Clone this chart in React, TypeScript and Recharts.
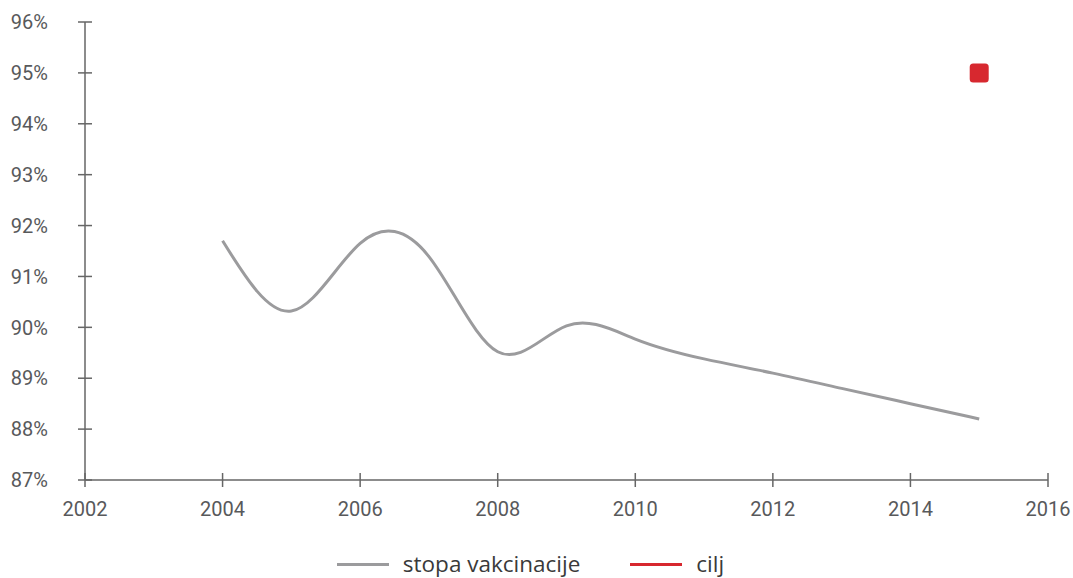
import React from 'react'
import { ComposedChart, Line, Scatter, XAxis, YAxis, Legend } from 'recharts'

const years = [2004, 2005, 2006, 2007, 2008, 2009, 2010, 2011, 2012, 2013, 2014, 2015]
const rates = [91.7, 90.32, 91.65, 91.39, 89.52, 90.03, 89.77, 89.38, 89.1, 88.8, 88.5, 88.2]
const targetYears = [2015]
const targetValues = [95]
const xTicks = [2002, 2004, 2006, 2008, 2010, 2012, 2014, 2016]
const yTicks = [87, 88, 89, 90, 91, 92, 93, 94, 95, 96]

const rows = years.map((year, i) => ({ year, rate: rates[i] }))
const targetRows = targetYears.map((year, i) => ({ year, target: targetValues[i] }))

const W = 1065
const H = 570
const AXIS = '#666666'
const TICK_TEXT = '#58595b'
const GREY = '#9b9b9d'
const RED = '#d7282f'

function YTick({ x, y, payload }: any) {
  return (
    <g>
      <line x1={x - 7} x2={x + 7} y1={y} y2={y} stroke={AXIS} strokeWidth={1.5} />
      <text x={x - 37} y={y} dy="0.36em" textAnchor="end" fill={TICK_TEXT} fontSize={20} fontFamily="Roboto">
        {payload.value}%
      </text>
    </g>
  )
}

function XTick({ x, y, payload }: any) {
  return (
    <g>
      <line x1={x} x2={x} y1={y - 7} y2={y + 7} stroke={AXIS} strokeWidth={1.5} />
      <text x={x} y={y + 29} dy="0.36em" textAnchor="middle" fill={TICK_TEXT} fontSize={20} fontFamily="Roboto">
        {payload.value}
      </text>
    </g>
  )
}

function TargetMark({ cx, cy }: any) {
  return <rect x={cx - 9.5} y={cy - 9.5} width={19} height={19} rx={3.5} fill={RED} />
}

function LegendBox() {
  const items = [
    { label: 'stopa vakcinacije', color: GREY },
    { label: 'cilj', color: RED },
  ]
  return (
    <div style={{ position: 'relative', height: 48, width: W }}>
      <div
        style={{
          position: 'absolute',
          top: 24,
          left: 0,
          right: 20,
          height: 20,
          display: 'flex',
          justifyContent: 'center',
          alignItems: 'center',
          gap: 50,
          fontFamily: '"Open Sans"',
          fontSize: 22.5,
          color: '#3a3a3a',
        }}
      >
        {items.map((it) => (
          <div key={it.label} style={{ display: 'flex', alignItems: 'center', gap: 14 }}>
            <span style={{ display: 'inline-block', width: 52, height: 3, background: it.color }} />
            <span style={{ lineHeight: '20px' }}>{it.label}</span>
          </div>
        ))}
      </div>
    </div>
  )
}

export default function App() {
  // absolutely placed so the page never grows past the window and gets a scrollbar
  return (
    <div style={{ position: 'absolute', left: 8, top: 8, width: W, height: H }}>
      <ComposedChart width={W} height={H} data={rows} margin={{ top: 14, right: 25, left: 0, bottom: 0 }}>
        <XAxis
          dataKey="year"
          type="number"
          domain={[2002, 2016]}
          ticks={xTicks}
          interval={0}
          height={50}
          tickSize={0}
          tickMargin={0}
          tickLine={false}
          axisLine={{ stroke: AXIS, strokeWidth: 1.5 }}
          tick={<XTick />}
        />
        <YAxis
          type="number"
          domain={[87, 96]}
          ticks={yTicks}
          interval={0}
          width={77}
          tickSize={0}
          tickMargin={0}
          tickLine={false}
          axisLine={{ stroke: AXIS, strokeWidth: 1.5 }}
          tick={<YTick />}
        />
        <Legend verticalAlign="bottom" height={48} content={<LegendBox />} wrapperStyle={{ left: 0, bottom: 0, width: W }} />
        <Line
          dataKey="rate"
          name="stopa vakcinacije"
          type="natural"
          stroke={GREY}
          strokeWidth={3}
          dot={false}
          activeDot={false}
          isAnimationActive={false}
        />
        <Scatter
          data={targetRows}
          dataKey="target"
          name="cilj"
          fill={RED}
          shape={<TargetMark />}
          isAnimationActive={false}
        />
      </ComposedChart>
    </div>
  )
}
